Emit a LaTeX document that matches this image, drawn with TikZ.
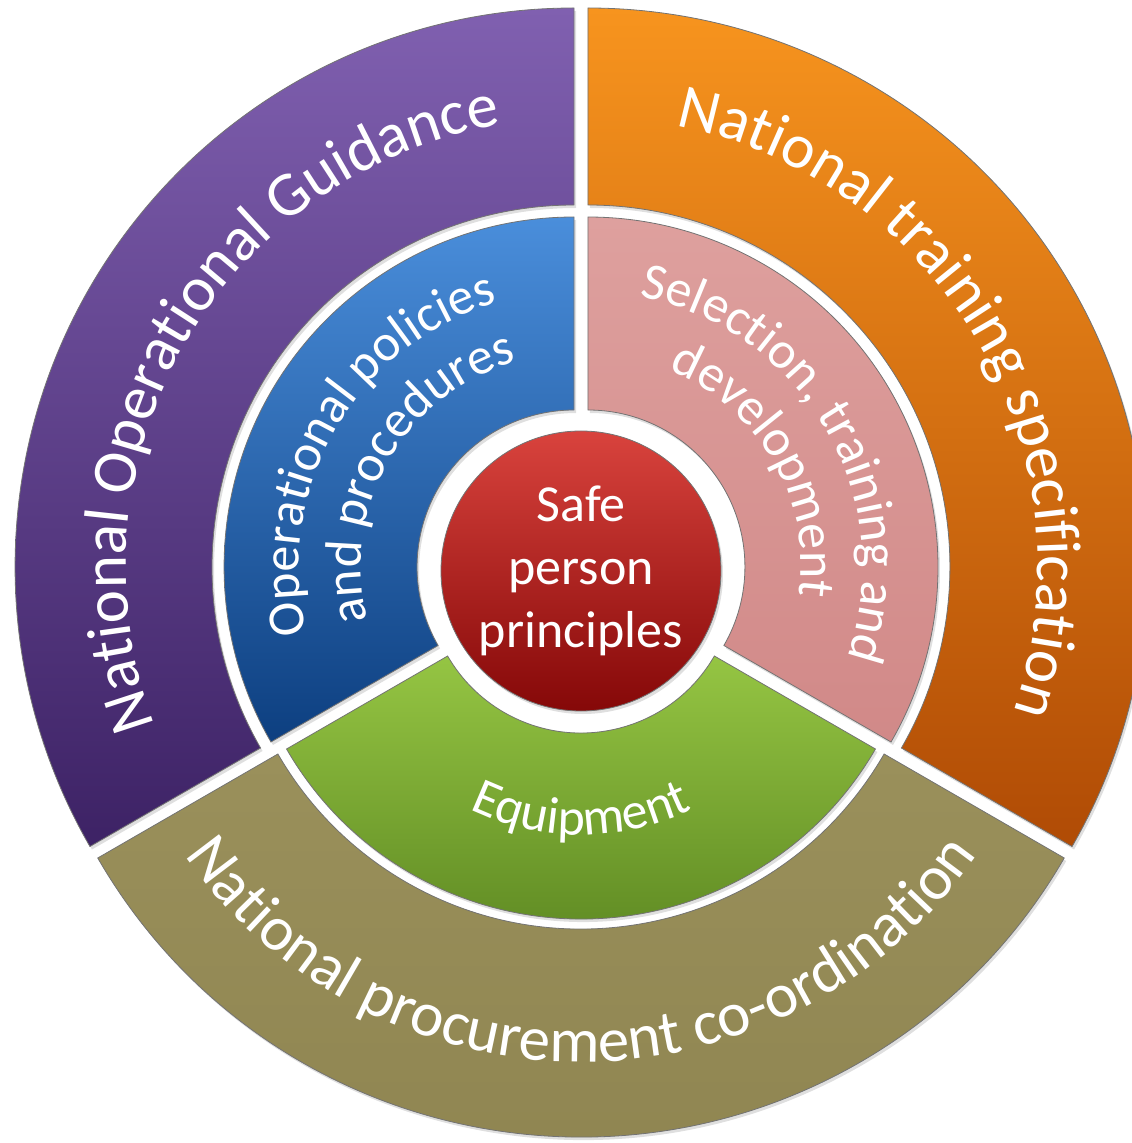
\documentclass[tikz,border=0pt]{standalone}
\usepackage{fontspec}
\setmainfont{Carlito}
\usetikzlibrary{decorations.text}
\usetikzlibrary{shadows}

\definecolor{ngTop}{HTML}{8060B0}
\definecolor{ngBot}{HTML}{3D2265}
\definecolor{ntTop}{HTML}{F7941E}
\definecolor{ntBot}{HTML}{B04B05}
\definecolor{npTop}{HTML}{9A905B}
\definecolor{npBot}{HTML}{8E8450}
\definecolor{opTop}{HTML}{4A8EDB}
\definecolor{opBot}{HTML}{0D3F80}
\definecolor{sdTop}{HTML}{DEA09E}
\definecolor{sdBot}{HTML}{D18988}
\definecolor{eqTop}{HTML}{95C543}
\definecolor{eqBot}{HTML}{5A8520}
\definecolor{sfTop}{HTML}{D9433D}
\definecolor{sfBot}{HTML}{850808}

\newcommand\outerfont{\fontsize{63}{76}\selectfont}
\newcommand\innerfont{\fontsize{52}{62}\selectfont}
\newcommand\corefont{\fontsize{52}{63}\selectfont}

\begin{document}
\begin{tikzpicture}[x=1pt, y=1pt,
ringpart/.style={draw=black!55, line width=0.8pt,
  drop shadow={shadow xshift=2pt, shadow yshift=-3pt, opacity=0.25}},
arclabel/.style={decorate, decoration={text along path, text align=center, text color=white}}]

\def\off{8} % explosion offset of every piece
\clip (-581,-572) rectangle (551,571);

% RING PIECES: from/to angle, inner/outer radius, colours
\foreach \a/\b/\ri/\ro/\ct/\cb [evaluate={\m=(\a+\b)/2;}] in
  {90/210/362/559/ngTop/ngBot, -30/90/362/559/ntTop/ntBot, 210/330/350/558/npTop/npBot,
   90/210/157/350/opTop/opBot, -30/90/157/350/sdTop/sdBot, 210/330/154/340/eqTop/eqBot}{
  \path[ringpart, top color=\ct, bottom color=\cb, shift={(\m:\off)}]
    (\a:\ro) arc[start angle=\a, end angle=\b, radius=\ro]
    -- (\b:\ri) arc[start angle=\b, end angle=\a, radius=\ri] -- cycle;
}

% outer labels
\path[arclabel, shift={(150:\off)}, decoration={text={|\outerfont|National Operational Guidance}}]
  (210:448) arc[start angle=210, end angle=90, radius=448];
\path[arclabel, shift={(30:\off)}, decoration={text={|\outerfont|National training specification}}]
  (90:450) arc[start angle=90, end angle=-30, radius=450];
\path[arclabel, shift={(270:\off)}, decoration={text={|\outerfont|National procurement co-ordination}}]
  (210:483) arc[start angle=210, end angle=330, radius=483];

% inner labels
\path[arclabel, shift={(150:\off)}, decoration={text={|\innerfont|Operational policies}}]
  (210:275) arc[start angle=210, end angle=90, radius=275];
\path[arclabel, shift={(150:\off)}, decoration={text={|\innerfont|and procedures}}]
  (210:213) arc[start angle=210, end angle=90, radius=213];
\path[arclabel, shift={(30:\off)}, decoration={text={|\innerfont|Selection, training and}}]
  (90:275) arc[start angle=90, end angle=-30, radius=275];
\path[arclabel, shift={(30:\off)}, decoration={text={|\innerfont|development}}]
  (90:213) arc[start angle=90, end angle=-30, radius=213];
\path[arclabel, shift={(270:\off)}, decoration={text={|\innerfont|Equipment}}]
  (210:256) arc[start angle=210, end angle=330, radius=256];

% centre
\node[circle, minimum size=280pt, inner sep=0pt, draw=black!55, line width=0.8pt,
  top color=sfTop, bottom color=sfBot, text=white, align=center, font=\corefont,
  drop shadow={shadow xshift=2pt, shadow yshift=-3pt, opacity=0.25}]
  (core) at (0,0) {Safe\\person\\principles};

\end{tikzpicture}
\end{document}
